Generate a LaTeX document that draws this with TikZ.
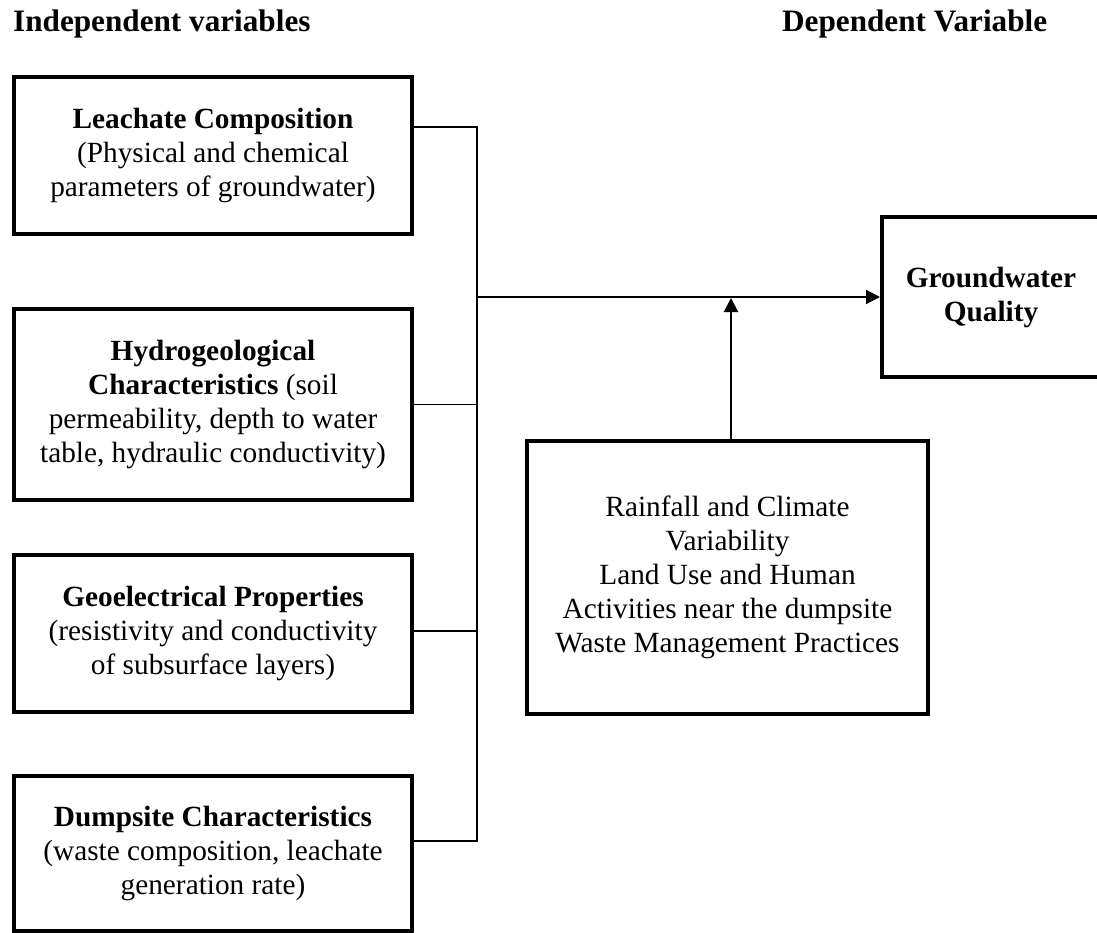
\documentclass[tikz,border=0pt]{standalone}
\usepackage{fontspec}
\setmainfont{Liberation Serif}
\usetikzlibrary{arrows.meta}
\begin{document}
\begin{tikzpicture}[x=1pt,y=-1pt,
  every node/.style={font=\fontsize{29.3}{34}\selectfont},
  box/.style={draw, line width=4pt, inner sep=0pt, align=center},
  hdr/.style={font=\fontsize{31.2}{36}\selectfont\bfseries, inner sep=0pt, anchor=base west},
  conn/.style={line width=1.6pt},
  arr/.style={line width=2pt, -{Triangle[length=14pt,width=14pt]}}]
\useasboundingbox (0,0) rectangle (1097,933);
\clip (0,0) rectangle (1097,933);
\node[hdr] (h1) at (13,32) {Independent variables};
\node[hdr] (h2) at (782,32) {Dependent Variable};

\node[box, minimum width=398pt, minimum height=157pt] (b1) at (213,155.5)
  {\textbf{Leachate Composition}\\(Physical and chemical\\parameters of groundwater)};
\node[box, minimum width=398pt, minimum height=191pt] (b2) at (213,404.5)
  {\textbf{Hydrogeological}\\\textbf{Characteristics} (soil\\permeability, depth to water\\table, hydraulic conductivity)};
\node[box, minimum width=398pt, minimum height=157pt] (b3) at (213,633.5)
  {\textbf{Geoelectrical Properties}\\(resistivity and conductivity\\of subsurface layers)};
\node[box, minimum width=398pt, minimum height=155pt] (b4) at (213,853.5)
  {\textbf{Dumpsite Characteristics}\\(waste composition, leachate\\generation rate)};
\node[box, minimum width=218pt, minimum height=160pt] (gw) at (991,297)
  {\textbf{Groundwater}\\\textbf{Quality}};
\node[box, minimum width=401pt, minimum height=273pt] (rf) at (727.5,577.5)
  {Rainfall and Climate\\Variability\\Land Use and Human\\Activities near the dumpsite\\Waste Management Practices};

\coordinate (bt) at (477,127);
\coordinate (bb) at (477,841);
\coordinate (jn) at (477,297);
\coordinate (up) at (731,297);

\draw[conn] (b1.east |- bt) -- (bt) -- (bb) -- (b4.east |- bb);
\draw[conn] (b2.east) -- (b2.east -| bt);
\draw[conn] (b3.east |- 0,631) -- (bt |- 0,631);
\draw[arr] (jn) -- (gw.west);
\draw[arr, shorten >=1pt] (rf.north -| up) -- (up);
\end{tikzpicture}
\end{document}
